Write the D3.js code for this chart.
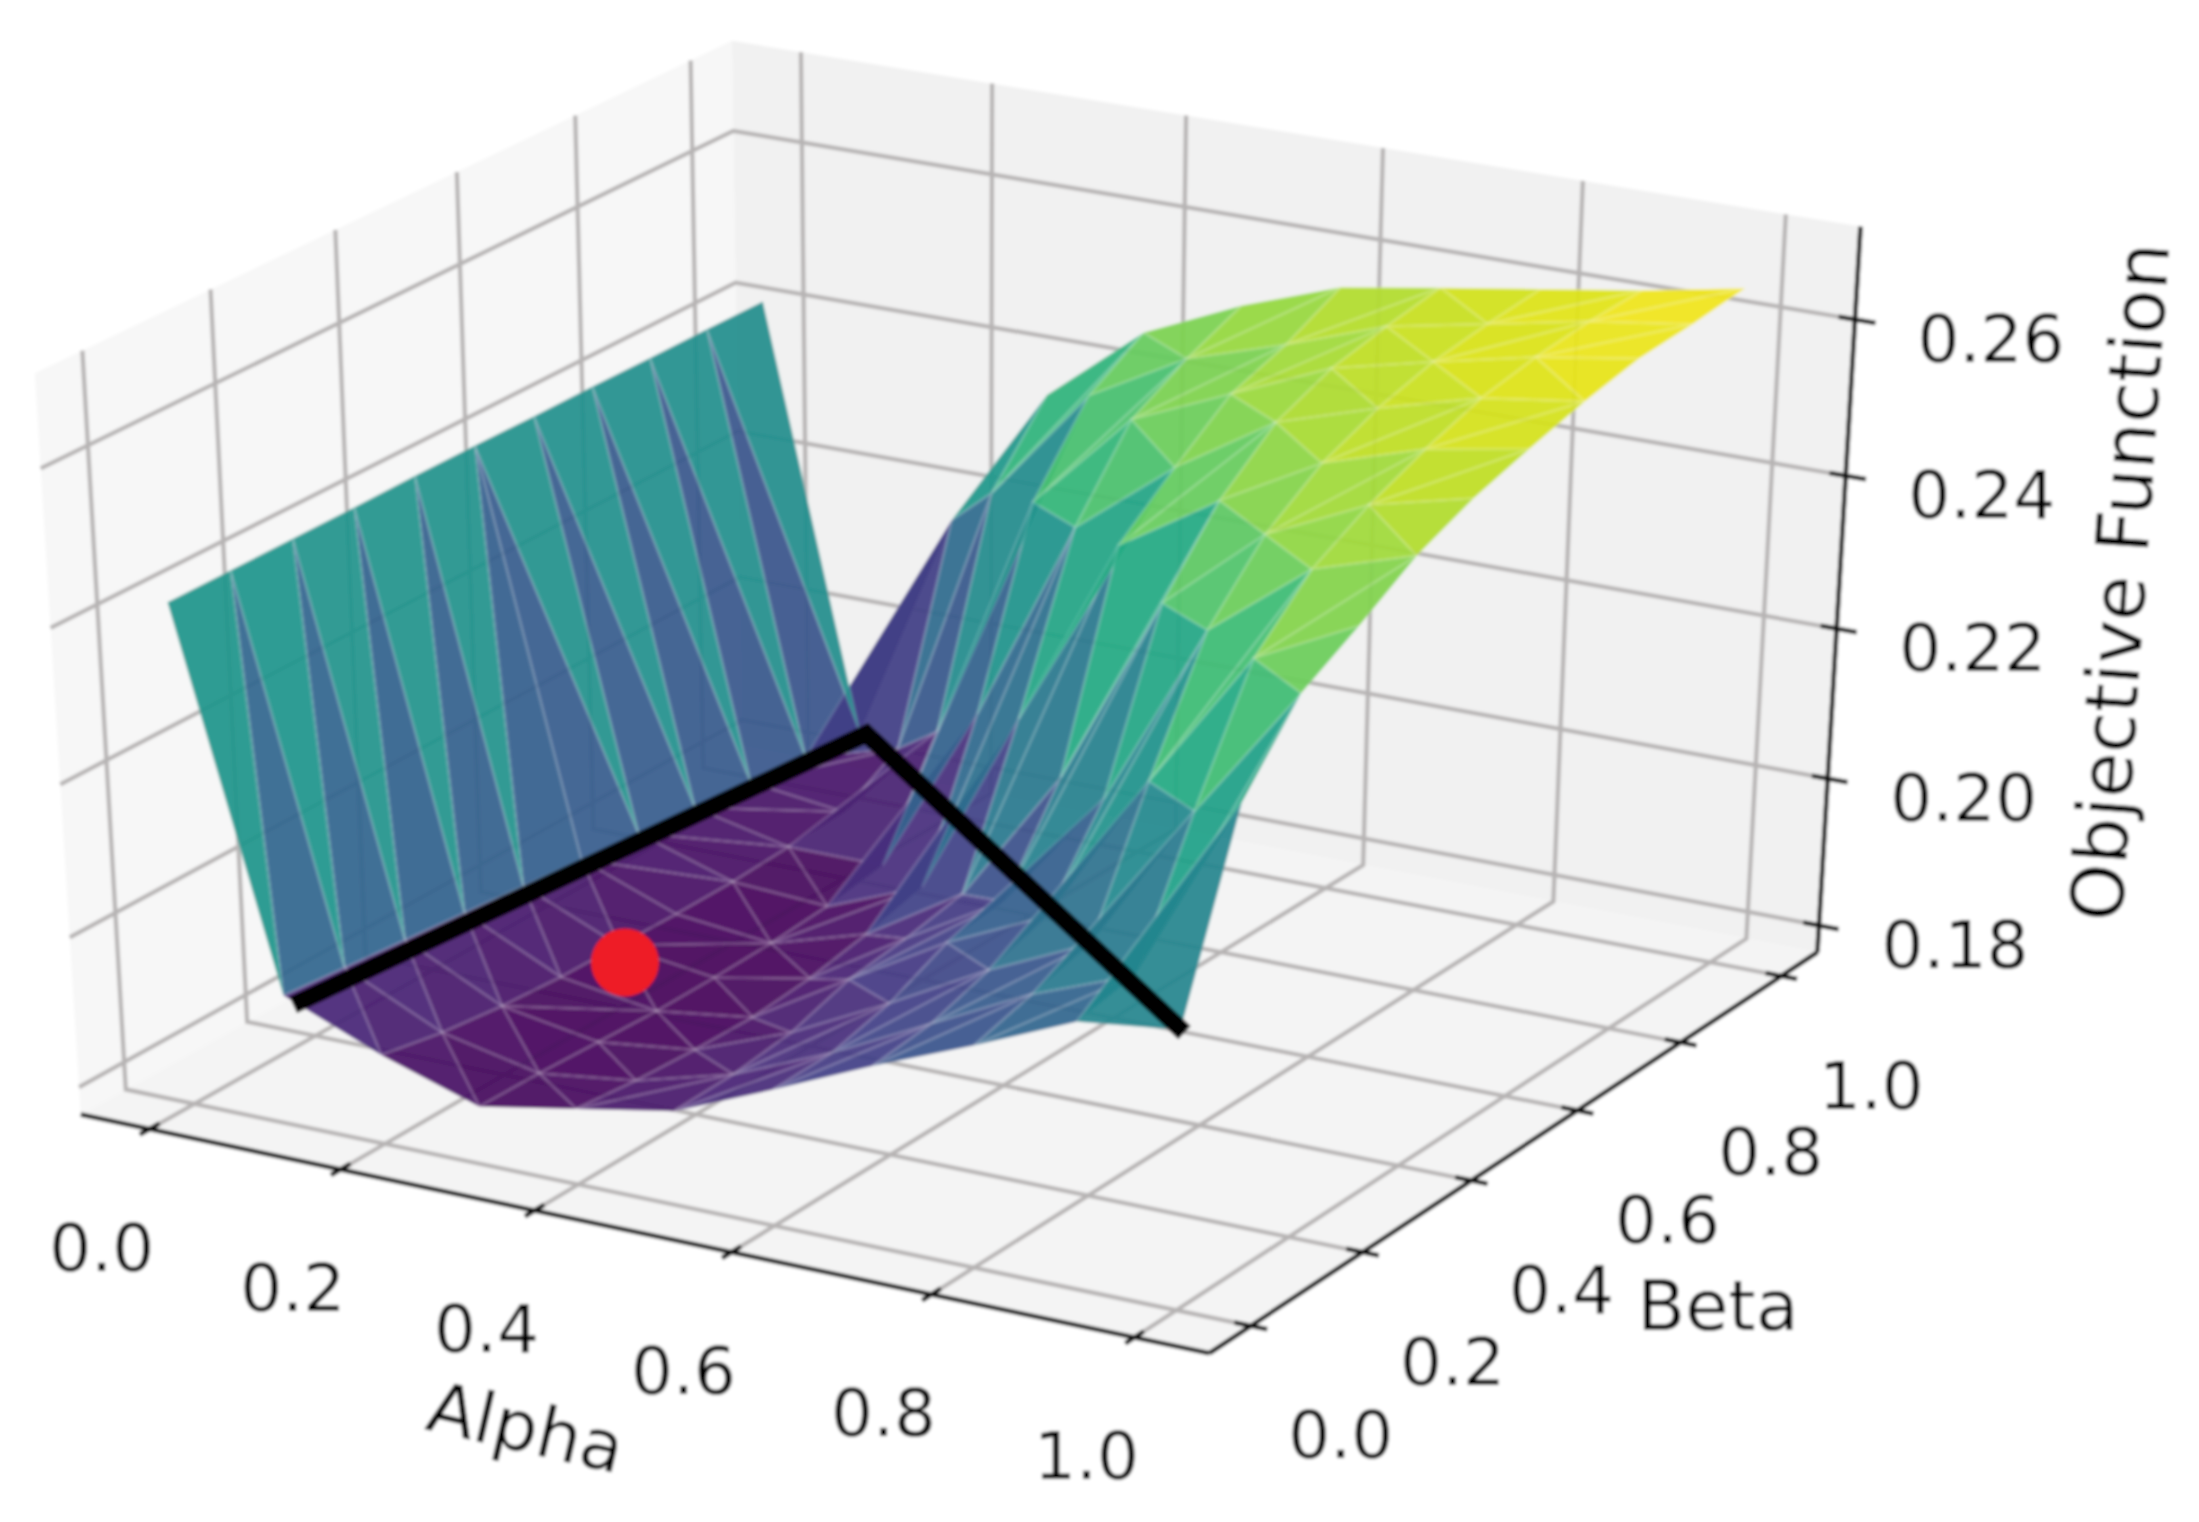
<!DOCTYPE html>
<html>
<head>
<meta charset="utf-8">
<script src="https://cdn.jsdelivr.net/npm/d3@7"></script>
<style>
  html, body { margin: 0; padding: 0; background: #fff; }
  text { font-family: 'DejaVu Sans', sans-serif; fill: #000; }
</style>
</head>
<body>
<div id="chart"></div>
<script>
const width = 2199
const height = 1522

const alphaValues = [0, 0.1, 0.2, 0.3, 0.4, 0.5, 0.6, 0.7, 0.8, 0.9, 1]
const betaValues = [0, 0.1, 0.2, 0.3, 0.4, 0.5, 0.6, 0.7, 0.8, 0.9, 1]

// one row per beta, one column per alpha
const objective = [
  [0.2420, 0.1935, 0.1882, 0.1840, 0.1864, 0.1888, 0.1943, 0.2001, 0.2054, 0.2111, 0.2127],
  [0.2420, 0.1927, 0.1866, 0.1838, 0.1855, 0.1890, 0.1945, 0.2010, 0.2075, 0.2125, 0.2369],
  [0.2420, 0.1919, 0.1856, 0.1834, 0.1850, 0.1900, 0.1965, 0.2035, 0.2095, 0.2290, 0.2462],
  [0.2420, 0.1911, 0.1850, 0.1830, 0.1848, 0.1925, 0.2000, 0.2060, 0.2260, 0.2440, 0.2504],
  [0.2421, 0.1903, 0.1848, 0.1830, 0.1855, 0.1935, 0.2010, 0.2170, 0.2410, 0.2510, 0.2550],
  [0.2421, 0.1895, 0.1846, 0.1832, 0.1870, 0.1950, 0.2130, 0.2380, 0.2490, 0.2550, 0.2581],
  [0.2420, 0.1887, 0.1846, 0.1838, 0.1890, 0.2140, 0.2390, 0.2470, 0.2540, 0.2580, 0.2603],
  [0.2420, 0.1879, 0.1850, 0.1850, 0.2080, 0.2350, 0.2450, 0.2530, 0.2570, 0.2605, 0.2623],
  [0.2419, 0.1871, 0.1855, 0.1990, 0.2320, 0.2450, 0.2505, 0.2560, 0.2590, 0.2618, 0.2638],
  [0.2419, 0.1863, 0.1900, 0.2270, 0.2420, 0.2490, 0.2530, 0.2575, 0.2600, 0.2625, 0.2643],
  [0.2418, 0.1855, 0.2171, 0.2360, 0.2464, 0.2521, 0.2566, 0.2587, 0.2607, 0.2627, 0.2651]
]

const alphaTicks = [0, 0.2, 0.4, 0.6, 0.8, 1]
const betaTicks = [0, 0.2, 0.4, 0.6, 0.8, 1]
const zTicks = [0.18, 0.2, 0.22, 0.24, 0.26]

// the two black lines and the red dot: [alpha, beta, objective]
const boundaryPath = [[0.11, 0, 0.1925], [0.107, 1, 0.1855], [1.006, -0.004, 0.2127]]
const optimum = [0.24, 0.345, 0.186]

// pane limits
const xyLim = [-0.0729, 1.0729]
const zLim = [0.1763, 0.2717]

const alphaBox = d3.scaleLinear().domain(xyLim).range([-0.5, 0.5])
const betaBox = d3.scaleLinear().domain(xyLim).range([-0.5, 0.5])
const zBox = d3.scaleLinear().domain(zLim).range([-0.5, 0.5])

const xScreen = d3.scaleLinear().domain([-0.1, 0.1]).range([962.5 - 1302.8, 962.5 + 1302.8])
const yScreen = d3.scaleLinear().domain([-0.1, 0.1]).range([674.6 + 846.3, 674.6 - 846.3])

const color = d3.scaleSequential(d3.interpolateViridis).domain([0.1824, 0.2656])

// camera like the default 3d view, elev 30 azim -60
const elev = 30 * Math.PI / 180
const azim = -60 * Math.PI / 180
const dist = 10
const w = [Math.cos(elev) * Math.cos(azim), Math.cos(elev) * Math.sin(azim), Math.sin(elev)]
const u = [-w[1] / Math.cos(elev), w[0] / Math.cos(elev), 0]
const v = [w[1] * u[2] - w[2] * u[1], w[2] * u[0] - w[0] * u[2], w[0] * u[1] - w[1] * u[0]]
const dot = (a, b) => a[0] * b[0] + a[1] * b[1] + a[2] * b[2]

function boxPoint(d) {
  return [alphaBox(d[0]), betaBox(d[1]), zBox(d[2])]
}
function depth(d) {
  return dist - dot(w, boxPoint(d))
}
function project(d) {
  const p = boxPoint(d)
  const s = dist - dot(w, p)
  return [xScreen(dot(u, p) / s), yScreen(dot(v, p) / s)]
}
const path3d = d3.line().x(d => project(d)[0]).y(d => project(d)[1])

const root = d3
  .select('#chart')
  .append('svg')
  .attr('width', width)
  .attr('height', height)
  .style('display', 'block')

root
  .append('defs')
  .append('filter')
  .attr('id', 'soft')
  .attr('x', 0)
  .attr('y', 0)
  .attr('width', 1)
  .attr('height', 1)
  .attr('filterUnits', 'objectBoundingBox')
  .append('feGaussianBlur')
  .attr('stdDeviation', 1.4)

const svg = root.append('g').attr('filter', 'url(#soft)')

svg
  .append('rect')
  .attr('width', width)
  .attr('height', height)
  .attr('fill', '#fff')

const [lo, hi] = xyLim
const [zLo, zHi] = zLim

// panes
const panes = [
  { fill: '#f7f7f7', pts: [[lo, lo, zLo], [lo, hi, zLo], [lo, hi, zHi], [lo, lo, zHi]] },
  { fill: '#f1f1f1', pts: [[lo, hi, zLo], [hi, hi, zLo], [hi, hi, zHi], [lo, hi, zHi]] },
  { fill: '#f4f4f4', pts: [[lo, lo, zLo], [hi, lo, zLo], [hi, hi, zLo], [lo, hi, zLo]] }
]
svg
  .selectAll('.pane')
  .data(panes)
  .enter()
  .append('path')
  .attr('class', 'pane')
  .attr('d', d => path3d(d.pts) + 'Z')
  .attr('fill', d => d.fill)

// gridlines
const gridLines = []
alphaTicks.forEach(t => gridLines.push([[t, lo, zLo], [t, hi, zLo], [t, hi, zHi]]))
betaTicks.forEach(t => gridLines.push([[hi, t, zLo], [lo, t, zLo], [lo, t, zHi]]))
zTicks.forEach(t => gridLines.push([[lo, lo, t], [lo, hi, t], [hi, hi, t]]))
svg
  .selectAll('.grid')
  .data(gridLines)
  .enter()
  .append('path')
  .attr('class', 'grid')
  .attr('d', path3d)
  .attr('fill', 'none')
  .attr('stroke', '#b6b3b3')
  .attr('stroke-width', 4.2)

// axis lines
const axisLines = [
  [[lo, lo, zLo], [hi, lo, zLo]],
  [[hi, lo, zLo], [hi, hi, zLo]],
  [[hi, hi, zLo], [hi, hi, zHi]]
]
alphaTicks.forEach(t => axisLines.push([[t, lo + 0.016, zLo], [t, lo - 0.016, zLo]]))
betaTicks.forEach(t => axisLines.push([[hi - 0.016, t, zLo], [hi + 0.016, t, zLo]]))
zTicks.forEach(t => axisLines.push([[hi - 0.016, hi, t], [hi + 0.02, hi, t]]))
svg
  .selectAll('.axis-line')
  .data(axisLines)
  .enter()
  .append('path')
  .attr('class', 'axis-line')
  .attr('d', path3d)
  .attr('fill', 'none')
  .attr('stroke', '#111')
  .attr('stroke-width', 4.6)

// surface, triangulated from the grid points
const gridPoints = []
betaValues.forEach((b, j) => {
  alphaValues.forEach((a, i) => gridPoints.push([a, b, objective[j][i]]))
})
const delaunay = d3.Delaunay.from(gridPoints, d => d[0], d => d[1])
const triangles = d3.range(delaunay.triangles.length / 3).map(k => {
  return [0, 1, 2].map(n => gridPoints[delaunay.triangles[k * 3 + n]])
})
const meanDepth = t => d3.mean(t, depth)
const meanZ = t => d3.mean(t, d => d[2])
triangles.sort((a, b) => d3.descending(meanDepth(a), meanDepth(b)))

svg
  .selectAll('.tri')
  .data(triangles)
  .enter()
  .append('path')
  .attr('class', 'tri')
  .attr('d', d => path3d(d) + 'Z')
  .attr('fill', d => color(meanZ(d)))
  .attr('fill-opacity', 0.93)
  .attr('stroke', '#fff')
  .attr('stroke-opacity', 0.13)
  .attr('stroke-width', 2.6)

// constraint lines and the optimum
svg
  .append('path')
  .attr('d', path3d(boundaryPath))
  .attr('fill', 'none')
  .attr('stroke', '#000')
  .attr('stroke-width', 18)
  .attr('stroke-linecap', 'butt')
  .attr('stroke-linejoin', 'miter')

svg
  .append('circle')
  .attr('cx', project(optimum)[0])
  .attr('cy', project(optimum)[1])
  .attr('r', 34)
  .attr('fill', '#ee1c25')

// tick labels
const tickFormat1 = d3.format('.1f')
const tickFormat2 = d3.format('.2f')

function tickLabels(ticks, toPoint, dx, dy, format) {
  svg
    .append('g')
    .selectAll('text')
    .data(ticks)
    .enter()
    .append('text')
    .text(format)
    .attr('x', d => project(toPoint(d))[0] + dx)
    .attr('y', d => project(toPoint(d))[1] + dy)
    .attr('text-anchor', 'middle')
    .attr('dominant-baseline', 'central')
    .attr('font-size', 66)
}
tickLabels(alphaTicks, t => [t, lo, zLo], -48, 119, tickFormat1)
tickLabels(betaTicks, t => [hi, t, zLo], 90, 110, tickFormat1)
tickLabels(zTicks, t => [hi, hi, t], 136, 20, tickFormat2)

// axis labels
const axisLabels = [
  { text: 'Alpha', x: 526, y: 1428, rotate: 13, size: 70 },
  { text: 'Beta', x: 1718, y: 1306, rotate: 0, size: 70 },
  { text: 'Objective Function', x: 2120, y: 582, rotate: -86, size: 73 }
]
svg
  .selectAll('.axis-label')
  .data(axisLabels)
  .enter()
  .append('text')
  .attr('class', 'axis-label')
  .text(d => d.text)
  .attr('text-anchor', 'middle')
  .attr('dominant-baseline', 'central')
  .attr('font-size', d => d.size)
  .attr('transform', d => 'translate(' + d.x + ',' + d.y + ') rotate(' + d.rotate + ')')
</script>
</body>
</html>
